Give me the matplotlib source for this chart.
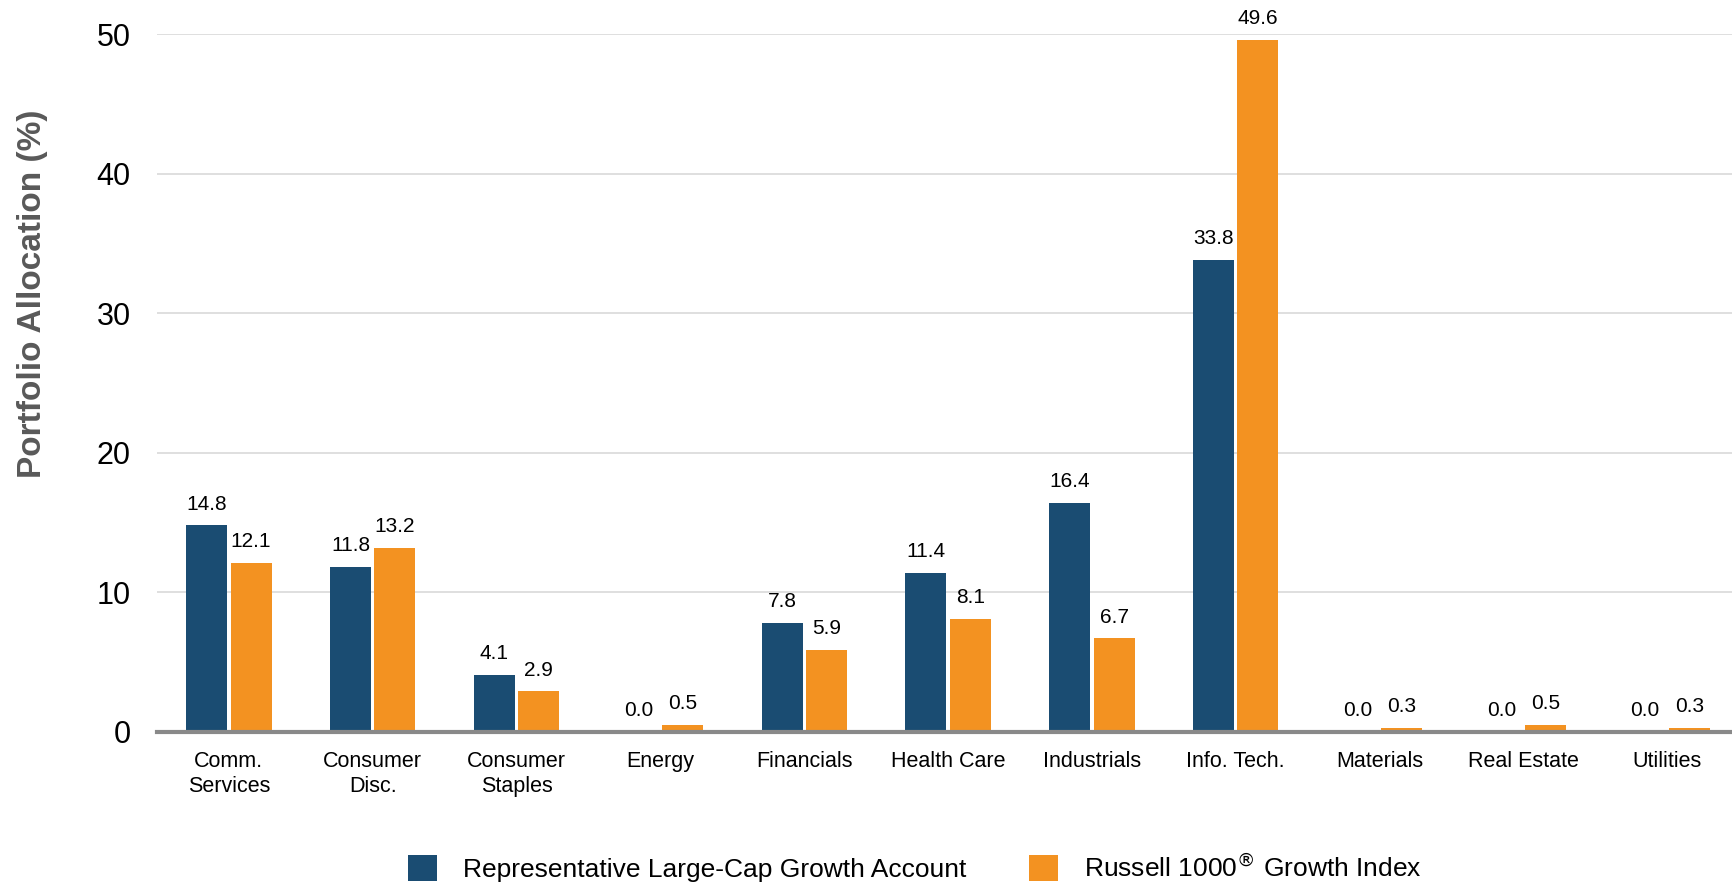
import matplotlib
matplotlib.use("Agg")
from matplotlib import pyplot as plt
import numpy as np

plt.rcParams['font.family'] = ['Liberation Sans', 'DejaVu Sans']

#Sector allocation data:
sectors = ["Comm.\nServices", "Consumer\nDisc.", "Consumer\nStaples", "Energy",
           "Financials", "Health Care", "Industrials", "Info. Tech.",
           "Materials", "Real Estate", "Utilities"]
account = [14.8, 11.8, 4.1, 0.0, 7.8, 11.4, 16.4, 33.8, 0.0, 0.0, 0.0]
index = [12.1, 13.2, 2.9, 0.5, 5.9, 8.1, 6.7, 49.6, 0.3, 0.5, 0.3]
series_names = ["Representative Large-Cap Growth Account",
                "Russell 1000$^{\u00ae}$ Growth Index"]

blue = "#1a4c72"
orange = "#f39221"

fig = plt.figure(figsize=(17.33, 8.84), dpi=100)
ax = fig.add_axes([0.0906, 0.172, 0.913, 0.7895])

x = np.arange(len(sectors))
w = 0.285
off = 0.154

bars1 = ax.bar(x - off, account, w, color=blue, label=series_names[0], zorder=3)
bars2 = ax.bar(x + off, index, w, color=orange, label=series_names[1], zorder=3)

for bars in (bars1, bars2):
    for b in bars:
        ax.annotate(f"{b.get_height():.1f}", (b.get_x() + b.get_width() / 2, b.get_height()),
                    xytext=(0, 8.5), textcoords="offset points", ha="center", va="bottom",
                    fontsize=15, color="black", annotation_clip=False)

ax.set_xlim(-0.5, 10.5)
ax.set_ylim(0, 50)
ax.set_yticks([0, 10, 20, 30, 40, 50])
ax.yaxis.grid(True, color="#d9d9d9", linewidth=1.2, zorder=0)
ax.set_axisbelow(True)
for s in ["top", "right", "left"]:
    ax.spines[s].set_visible(False)
ax.spines["bottom"].set_color("#898989")
ax.spines["bottom"].set_linewidth(3)
ax.spines["bottom"].set_zorder(4)

ax.set_xticks(x)
ax.set_xticklabels(sectors, fontsize=15.5, linespacing=1.25)
ax.tick_params(axis="x", length=0, pad=14)
ax.tick_params(axis="y", length=0, pad=19, labelsize=22)

ax.set_ylabel("Portfolio Allocation (%)", fontsize=24, fontweight="bold", color="#595959")
ax.yaxis.set_label_coords(-0.069, 0.628)

fig.legend(handles=[bars1, bars2], labels=series_names, loc="center", bbox_to_anchor=(0.528, 0.018),
           ncol=2, frameon=False, fontsize=19, handlelength=1.1, handleheight=1.1,
           handletextpad=1.0, columnspacing=2.35)

fig.savefig("out.png", dpi=100)
